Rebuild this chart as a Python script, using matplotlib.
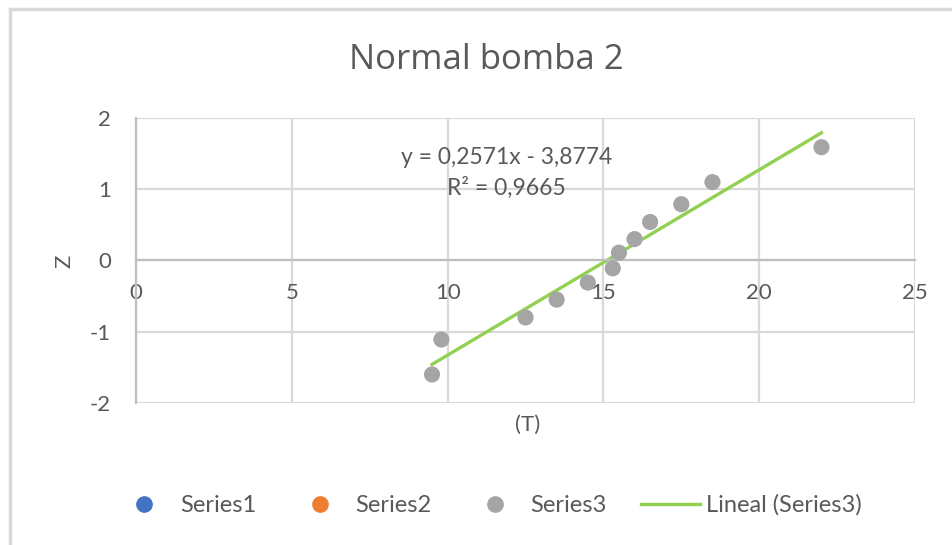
import numpy as np
import matplotlib
matplotlib.use('Agg')
import matplotlib.pyplot as plt
from matplotlib.lines import Line2D

# data
t_vals = [9.5, 9.8, 12.5, 13.5, 14.5, 15.3, 15.5, 16.0, 16.5, 17.5, 18.5, 22.0]
z_vals = [-1.60, -1.11, -0.80, -0.55, -0.31, -0.11, 0.11, 0.30, 0.54, 0.79, 1.10, 1.59]
x_ticks = [0, 5, 10, 15, 20, 25]
y_ticks = [-2, -1, 0, 1, 2]
eq_text = 'y = 0,2571x - 3,8774\nR² = 0,9665'
legend_labels = ['Series1', 'Series2', 'Series3', 'Lineal (Series3)']

txt = '#595959'
grid_c = '#d9d9d9'
axis_c = '#bfbfbf'
plt.rcParams['font.family'] = ['Lato', 'DejaVu Sans']
plt.rcParams['axes.unicode_minus'] = False

fig = plt.figure(figsize=(9.52, 5.45), dpi=100)
ax = fig.add_axes([0.1429, 0.2606, 0.8182, 0.5229])

# trendline from a least squares fit
coef = np.polyfit(t_vals, z_vals, 1)
xl = np.array([min(t_vals), max(t_vals)])
ax.plot(xl, np.polyval(coef, xl), color='#92d050', lw=2.4, zorder=2)
ax.scatter(t_vals, z_vals, s=135, color='#a5a5a5', edgecolors='none', zorder=3)

ax.set_xlim(0, 25)
ax.set_ylim(-2, 2)
ax.set_xticks(x_ticks)
ax.set_yticks(y_ticks)
ax.grid(True, color=grid_c, lw=1.6, zorder=0)
ax.set_axisbelow(True)
for s in ['top', 'right']:
    ax.spines[s].set_visible(False)
ax.spines['bottom'].set_position(('data', 0))
ax.spines['bottom'].set_color(axis_c)
ax.spines['bottom'].set_linewidth(1.6)
ax.spines['left'].set_color(axis_c)
ax.spines['left'].set_linewidth(1.6)
ax.tick_params(length=0, labelcolor=txt, labelsize=16)
ax.tick_params(axis='x', pad=16)
ax.tick_params(axis='y', pad=18)

ax.text(11.9, 1.23, eq_text, ha='center', va='center', color=txt,
        fontsize=16.5, linespacing=1.45, zorder=4)

fig.text(0.511, 0.89, 'Normal bomba 2', ha='center', va='center', color=txt,
         fontsize=25, family=['Open Sans', 'DejaVu Sans'])
fig.text(0.554, 0.22, '(T)', ha='center', va='center', color=txt, fontsize=16)
fig.text(0.068, 0.521, 'Z', ha='center', va='center', color=txt, fontsize=16,
         rotation=90)

handles = [
    Line2D([], [], ls='none', marker='o', ms=11, color='#4472c4'),
    Line2D([], [], ls='none', marker='o', ms=11, color='#ed7d31'),
    Line2D([], [], ls='none', marker='o', ms=11, color='#a5a5a5'),
    Line2D([], [], color='#92d050', lw=2.4),
]
fig.legend(handles, legend_labels, loc='center', bbox_to_anchor=(0.513, 0.073),
           ncol=4, frameon=False, fontsize=17, labelcolor=txt,
           handlelength=2.5, columnspacing=1.45, handletextpad=0.25)

# light border on left and top, as in the screenshot
fig.add_artist(Line2D([0.011, 0.011], [0, 0.984], color='#d9d9d9', lw=2.5))
fig.add_artist(Line2D([0.011, 1], [0.984, 0.984], color='#d9d9d9', lw=2.5))

fig.savefig('out.png', dpi=100)
